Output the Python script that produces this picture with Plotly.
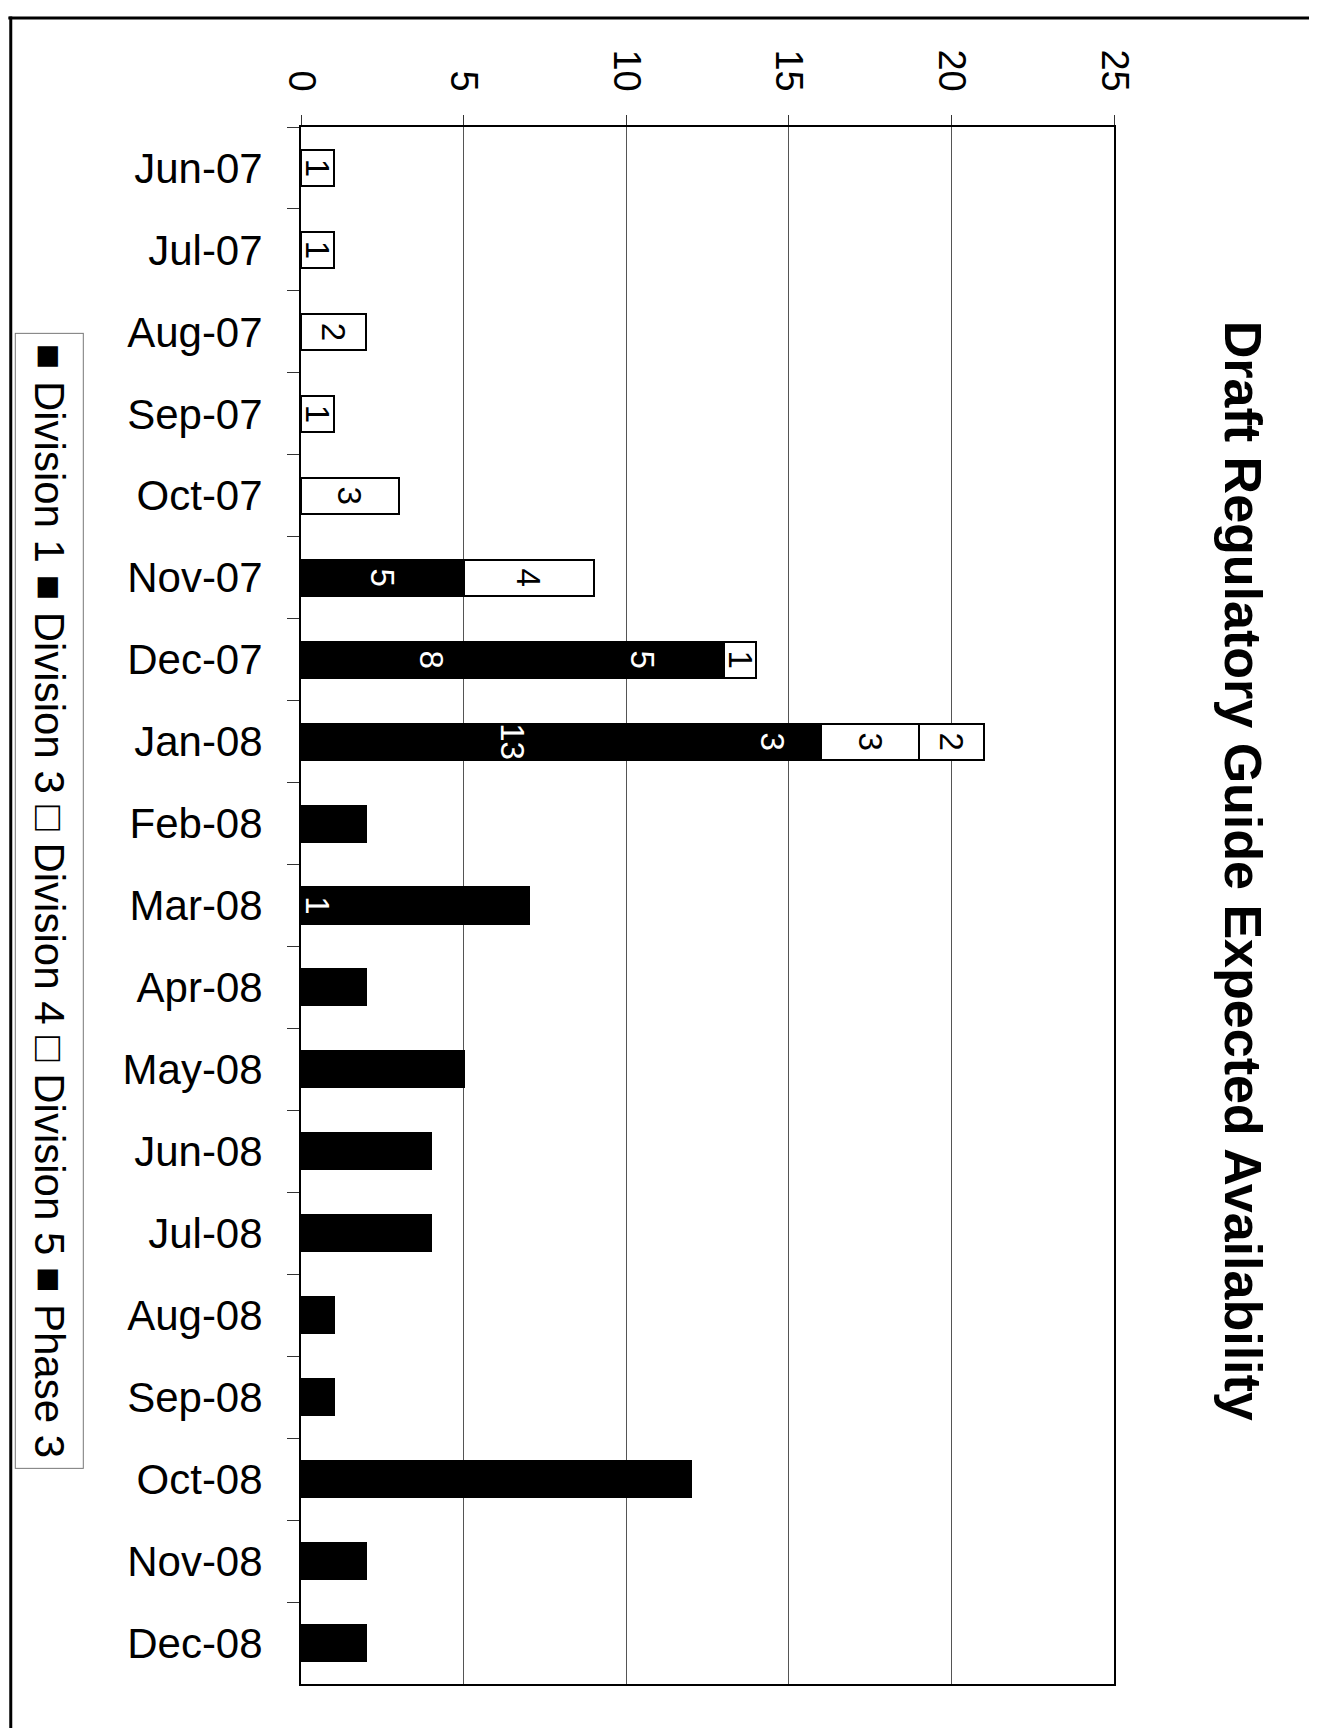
import plotly.graph_objects as go

months = ["Jun-07", "Jul-07", "Aug-07", "Sep-07", "Oct-07", "Nov-07", "Dec-07",
          "Jan-08", "Feb-08", "Mar-08", "Apr-08", "May-08", "Jun-08", "Jul-08",
          "Aug-08", "Sep-08", "Oct-08", "Nov-08", "Dec-08"]

division1 = [0, 0, 0, 0, 0, 5, 8, 13, 0, 1, 0, 0, 0, 0, 0, 0, 0, 0, 0]
division3 = [0, 0, 0, 0, 0, 0, 5, 3, 0, 0, 0, 0, 0, 0, 0, 0, 0, 0, 0]
division4 = [1, 1, 2, 1, 3, 4, 1, 3, 0, 0, 0, 0, 0, 0, 0, 0, 0, 0, 0]
division5 = [0, 0, 0, 0, 0, 0, 0, 2, 0, 0, 0, 0, 0, 0, 0, 0, 0, 0, 0]
phase3 = [0, 0, 0, 0, 0, 0, 0, 0, 2, 6, 2, 5, 4, 4, 1, 1, 12, 2, 2]

x_ticks = [0, 5, 10, 15, 20, 25]
title_text = "Draft Regulatory Guide Expected Availability"
legend_text = "■ Division 1 ■ Division 3 □ Division 4 □ Division 5 ■ Phase 3"

FONT = "Liberation Sans Narrow, Arial Narrow, Liberation Sans, Arial, sans-serif"

series = [
    ("Division 1", division1, "black", "white", True),
    ("Division 3", division3, "black", "white", True),
    ("Division 4", division4, "white", "black", True),
    ("Division 5", division5, "white", "black", True),
    ("Phase 3", phase3, "black", "black", False),
]

fig = go.Figure()
for name, vals, fill, tcol, show_lbl in series:
    fig.add_trace(go.Bar(
        name=name, y=months, x=vals, orientation="h",
        marker=dict(color=fill, line=dict(color="black", width=2)),
        text=[str(v) if (v and show_lbl) else "" for v in vals],
        textposition="inside", insidetextanchor="middle",
        textangle=90, constraintext="none",
        textfont=dict(color=tcol, size=33, family=FONT),
        showlegend=False,
    ))

fig.update_layout(
    barmode="stack", bargap=0.56,
    width=1317, height=1728,
    margin=dict(l=293, r=211, t=119, b=52),
    paper_bgcolor="white", plot_bgcolor="white",
    font=dict(family=FONT, color="black"),
    xaxis=dict(
        side="top", range=[0, 25], tickvals=x_ticks, tickangle=90,
        tickfont=dict(size=38), showgrid=True, gridcolor="#555", gridwidth=1,
        showline=True, linecolor="black", linewidth=2, mirror=True,
        ticks="outside", ticklen=10, tickcolor="#333", zeroline=False,
        ticklabelstandoff=10,
    ),
    yaxis=dict(
        autorange="reversed", tickfont=dict(size=42),
        showline=True, linecolor="black", linewidth=2, mirror=True,
        ticks="outside", ticklen=12, tickcolor="#333", tickson="boundaries",
        ticklabelstandoff=28,
    ),
    annotations=[
        dict(text="<b>" + title_text + "</b>", xref="paper", yref="paper",
             x=1.158, y=0.522, textangle=90, showarrow=False,
             font=dict(size=52, family=FONT), xanchor="center", yanchor="middle"),
        dict(text=legend_text, xref="paper", yref="paper",
             x=-0.310, y=0.503, textangle=90, showarrow=False,
             font=dict(size=42, family=FONT), xanchor="center", yanchor="middle",
             bordercolor="#777", borderwidth=1, borderpad=10, bgcolor="white"),
    ],
    shapes=[
        dict(type="line", xref="paper", yref="paper", x0=-0.36, x1=1.26,
             y0=1.070, y1=1.070, line=dict(color="black", width=3)),
        dict(type="line", xref="paper", yref="paper", x0=-0.357, x1=-0.357,
             y0=1.071, y1=-0.04, line=dict(color="black", width=3)),
    ],
)

fig.write_html("out.html")
